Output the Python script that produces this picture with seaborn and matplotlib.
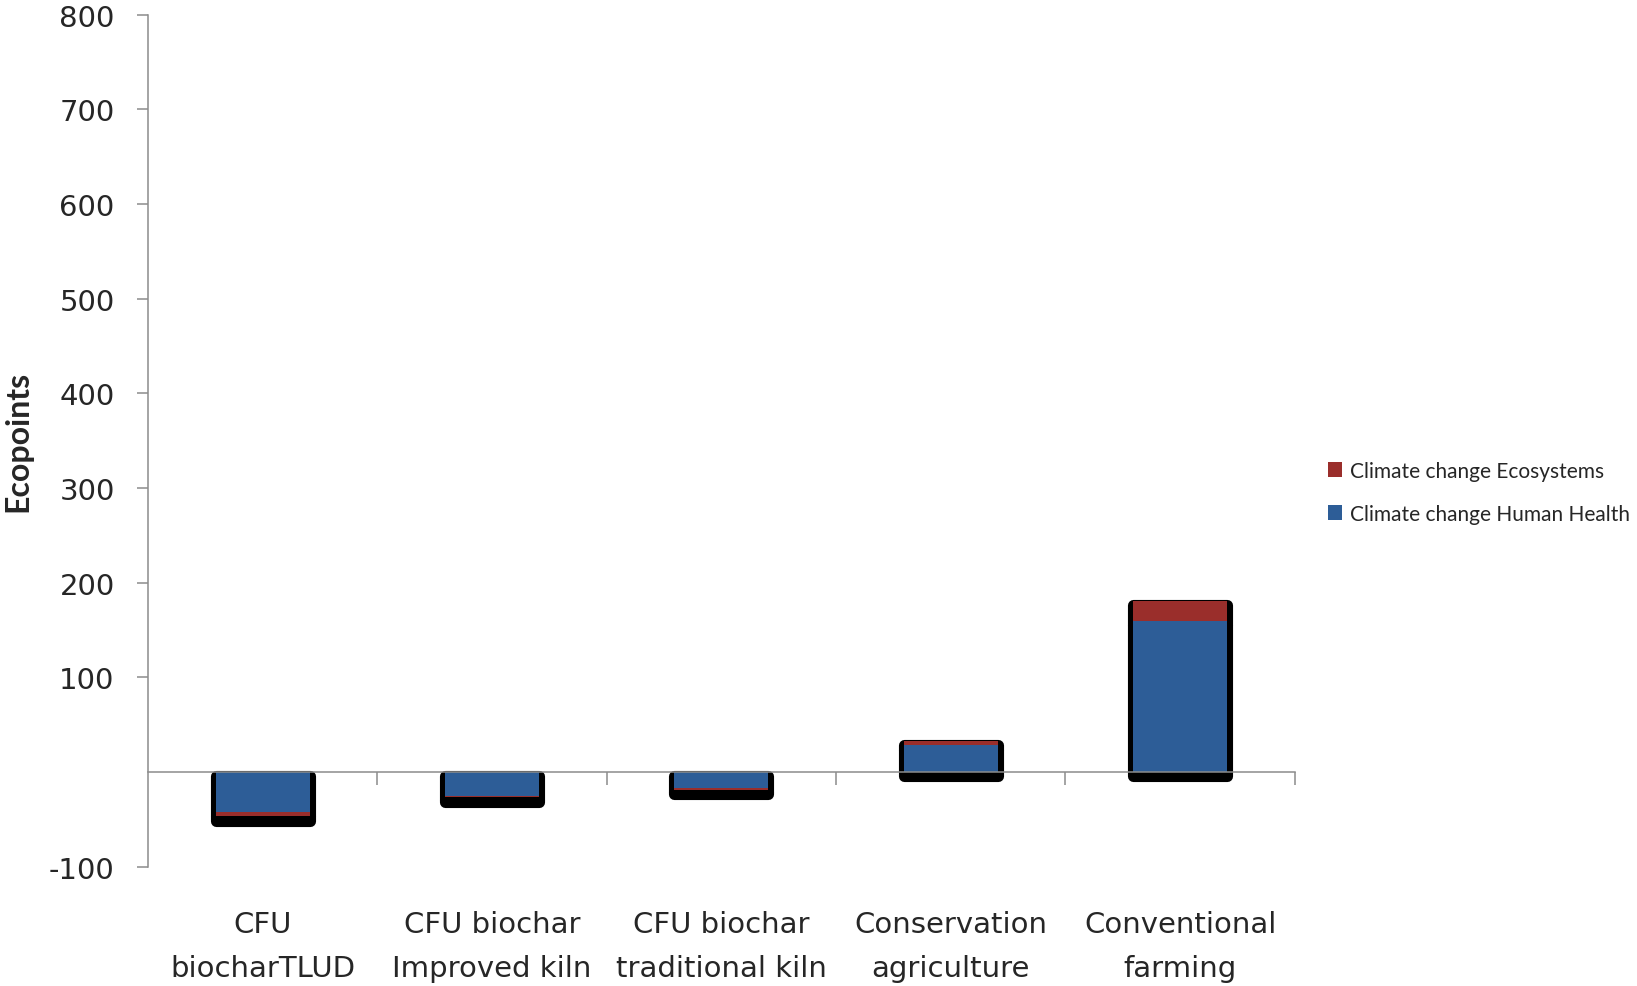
import matplotlib
matplotlib.use("Agg")
import matplotlib.pyplot as plt
import matplotlib.patheffects as pe
from matplotlib.patches import Patch, Rectangle
import numpy as np
import pandas as pd
import seaborn as sns

# Single-score results (Ecopoints) per farming scenario
categories = ["CFU\nbiocharTLUD", "CFU biochar\nImproved kiln", "CFU biochar\ntraditional kiln",
              "Conservation\nagriculture", "Conventional\nfarming"]
human_health = [-42, -25, -17, 28, 160]
ecosystems = [-5, -2, -2, 4.5, 21]
yticks = [-100, 100, 200, 300, 400, 500, 600, 700, 800]

blue = "#2D5D97"
red = "#9A2E2B"
grey = "#8C8C8C"

sns.set_theme(style="white")
plt.rcParams["font.family"] = ["DejaVu Sans"]
plt.rcParams["axes.unicode_minus"] = False

df = pd.DataFrame({"scenario": categories, "hh": human_health, "eco": ecosystems})

fig = plt.figure(figsize=(16.37, 9.87), dpi=100)
ax = fig.add_axes([0.0904, 0.121, 0.791 - 0.0904, 0.984 - 0.121])

sns.barplot(data=df, x="scenario", y="hh", color=blue, saturation=1, width=0.41,
            ax=ax, zorder=3, linewidth=0)
sns.barplot(data=df, x="scenario", y="eco", color=red, saturation=1, width=0.41,
            bottom=df["hh"], ax=ax, zorder=3, linewidth=0)

# Dark drop-shadow behind every bar segment, kept beneath all bars
shadow = [pe.Stroke(offset=(0, -3), linewidth=8, foreground="black", joinstyle="round"),
          pe.SimplePatchShadow(offset=(0, -3), shadow_rgbFace="black", alpha=1.0)]
for p in list(ax.patches):
    sh = Rectangle(p.get_xy(), p.get_width(), p.get_height(), facecolor="black",
                   edgecolor="none", zorder=2)
    sh.set_path_effects(shadow)
    ax.add_patch(sh)

ax.set_xlim(-0.5, len(categories) - 0.5)
ax.set_ylim(-100, 800)

# y axis
ax.set_yticks(yticks)
ax.tick_params(axis="y", direction="out", length=8, width=1.1, color=grey,
               labelsize=21, pad=16, left=True)
for s in ["top", "right", "bottom"]:
    ax.spines[s].set_visible(False)
ax.spines["left"].set_color(grey)
ax.spines["left"].set_linewidth(1.1)

# category labels at the bottom
ax.set_xticks(range(len(categories)))
ax.set_xticklabels(categories, fontsize=21, linespacing=1.75)
ax.tick_params(axis="x", length=0, pad=31)
ax.set_xlabel("")

# horizontal axis line at zero with category separators
sec = ax.secondary_xaxis(0, transform=ax.transData)
sec.set_xticks(np.arange(0.5, len(categories), 1.0))
sec.set_xticklabels([])
sec.tick_params(axis="x", direction="out", length=9, width=1.1, color=grey)
sec.spines["bottom"].set_color(grey)
sec.spines["bottom"].set_linewidth(1.1)
sec.set_zorder(4)

ax.set_ylabel("Ecopoints", fontsize=23, fontweight="bold", family="Lato")
ax.yaxis.set_label_coords(-0.101, 0.5)

handles = [Patch(facecolor=red, edgecolor="none", label="Climate change Ecosystems"),
           Patch(facecolor=blue, edgecolor="none", label="Climate change Human Health")]
fig.legend(handles=handles, loc="center left", bbox_to_anchor=(0.7995, 0.5),
           frameon=False, prop={"family": "Lato", "size": 15},
           handlelength=0.7, handleheight=0.7, handletextpad=0.4, labelspacing=1.1)

fig.savefig("out.png", dpi=100)
